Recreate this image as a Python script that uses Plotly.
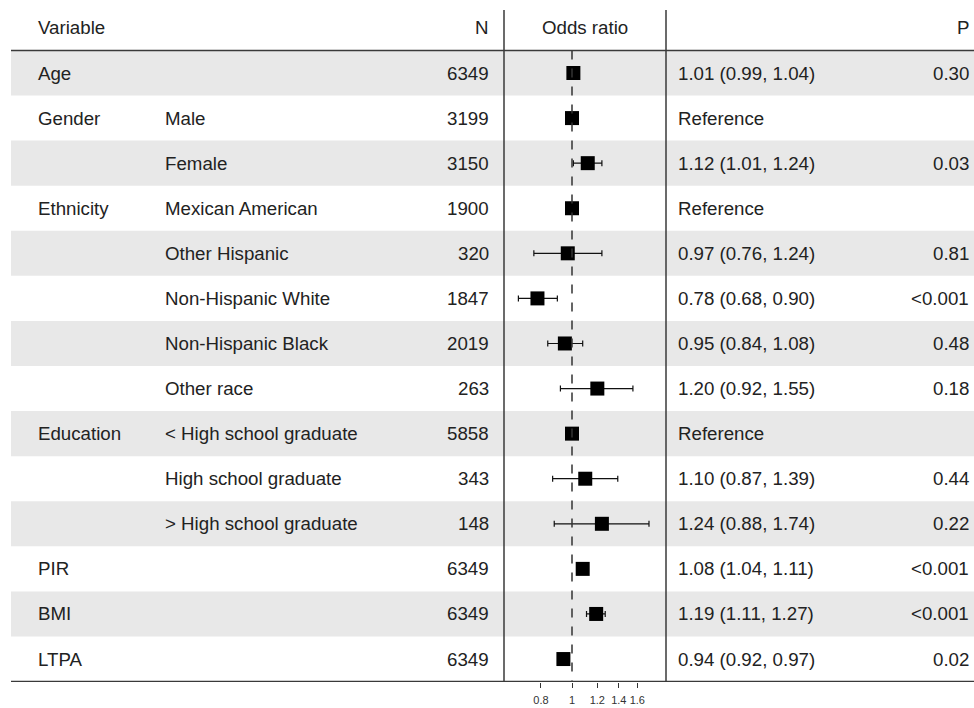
import plotly.graph_objects as go
import math

# ---------------- data ----------------
variables = ["Age", "Gender", "", "Ethnicity", "", "", "", "", "Education", "", "", "PIR", "BMI", "LTPA"]
subgroups = ["", "Male", "Female", "Mexican American", "Other Hispanic", "Non-Hispanic White",
             "Non-Hispanic Black", "Other race", "< High school graduate", "High school graduate",
             "> High school graduate", "", "", ""]
n_counts = [6349, 3199, 3150, 1900, 320, 1847, 2019, 263, 5858, 343, 148, 6349, 6349, 6349]
or_est = [1.01, 1.00, 1.12, 1.00, 0.97, 0.78, 0.95, 1.20, 1.00, 1.10, 1.24, 1.08, 1.19, 0.94]
ci_low = [0.99, None, 1.01, None, 0.76, 0.68, 0.84, 0.92, None, 0.87, 0.88, 1.04, 1.11, 0.92]
ci_high = [1.04, None, 1.24, None, 1.24, 0.90, 1.08, 1.55, None, 1.39, 1.74, 1.11, 1.27, 0.97]
p_text = ["0.30", "", "0.03", "", "0.81", "<0.001", "0.48", "0.18", "", "0.44", "0.22",
          "<0.001", "<0.001", "0.02"]
tick_vals = [0.8, 1, 1.2, 1.4, 1.6]
tick_text = ["0.8", "1", "1.2", "1.4", "1.6"]

# ---------------- layout constants ----------------
W, H = 974, 708
FONT = "Liberation Sans, Arial, Helvetica, sans-serif"
TXT = "#222222"
LINE = "#3a3a3a"
n_rows = len(or_est)
rows = list(range(1, n_rows + 1))

def px(x):
    return x / W

fig = go.Figure()

# row shading (alternating)
for i, r in enumerate(rows):
    if i % 2 == 0:
        fig.add_shape(type="rect", xref="paper", yref="y", x0=px(11), x1=1.0,
                      y0=r - 0.5, y1=r + 0.5, fillcolor="#e8e8e8", line_width=0, layer="below")

# error bars data
err_plus = [(h - e) if h is not None else 0 for e, h in zip(or_est, ci_high)]
err_minus = [(e - l) if l is not None else 0 for e, l in zip(or_est, ci_low)]
vis = [l is not None for l in ci_low]

fig.add_trace(go.Scatter(
    x=[e for e, v in zip(or_est, vis) if v],
    y=[r for r, v in zip(rows, vis) if v],
    mode="markers",
    marker=dict(size=0.1, color="rgba(0,0,0,0)"),
    error_x=dict(type="data", symmetric=False,
                 array=[p for p, v in zip(err_plus, vis) if v],
                 arrayminus=[m for m, v in zip(err_minus, vis) if v],
                 color="#111111", thickness=1.2, width=3),
    xaxis="x2", yaxis="y", hoverinfo="skip", showlegend=False))

fig.add_trace(go.Scatter(
    x=or_est, y=rows, mode="markers",
    marker=dict(symbol="square", size=14, color="black", line=dict(width=0)),
    xaxis="x2", yaxis="y", showlegend=False))

# dashed reference line at OR = 1
fig.add_shape(type="line", xref="x2", yref="y", x0=1, x1=1, y0=0.5, y1=n_rows + 0.5,
              line=dict(color="#333333", width=1.5, dash="dash"))

# horizontal rules
for yv in [0.5, n_rows + 0.5]:
    fig.add_shape(type="line", xref="paper", yref="y", x0=px(11), x1=1.0, y0=yv, y1=yv,
                  line=dict(color=LINE, width=1.5))
# vertical rules around OR panel
for xv in [504, 666]:
    fig.add_shape(type="line", xref="paper", yref="y", x0=px(xv), x1=px(xv),
                  y0=-0.4, y1=n_rows + 0.5, line=dict(color=LINE, width=1.5))

fs = 18.7
def ann(x, y, text, align):
    shift = {"left": -2, "right": 2, "center": 0}[align]
    fig.add_annotation(xref="paper", yref="y", x=px(x + shift), y=y, text=text, showarrow=False,
                       xanchor=align, yanchor="middle",
                       font=dict(family=FONT, size=fs, color=TXT))

# header
ann(38, 0, "Variable", "left")
ann(489, 0, "N", "right")
ann(585, 0, "Odds ratio", "center")
ann(969, 0, "P", "right")

for i, r in enumerate(rows):
    if variables[i]:
        ann(38, r, variables[i], "left")
    if subgroups[i]:
        ann(165, r, subgroups[i], "left")
    ann(489, r, str(n_counts[i]), "right")
    if ci_low[i] is None:
        est_txt = "Reference"
    else:
        est_txt = f"{or_est[i]:.2f} ({ci_low[i]:.2f}, {ci_high[i]:.2f})"
    ann(678, r, est_txt, "left")
    if p_text[i]:
        ann(969, r, p_text[i], "right")

# axes
ppr = 45.08  # pixels per row
top_val = (0 - 73) / ppr + 1
bot_val = (682 - 73) / ppr + 1
lo_ln = (504 - 572) / 139.0
hi_ln = (666 - 572) / 139.0

fig.update_layout(
    width=W, height=H,
    margin=dict(l=0, r=0, t=0, b=H - 682),
    paper_bgcolor="white", plot_bgcolor="rgba(0,0,0,0)",
    xaxis=dict(visible=False, range=[0, 1], domain=[0, 1]),
    xaxis2=dict(type="log", domain=[px(504), px(666)], anchor="y",
                range=[lo_ln / math.log(10), hi_ln / math.log(10)],
                tickvals=tick_vals, ticktext=tick_text, ticks="outside", ticklen=5,
                tickangle=0, tickcolor="#333333", tickwidth=1.2, showgrid=False,
                zeroline=False, showline=False, ticklabelstandoff=3,
                tickfont=dict(family=FONT, size=11, color="#333333")),
    yaxis=dict(visible=False, range=[bot_val, top_val], domain=[0, 1]),
    showlegend=False,
)

fig.write_html("out.html", config={"displayModeBar": False},
               post_script="document.body.style.margin='0';document.body.style.overflow='hidden';")
